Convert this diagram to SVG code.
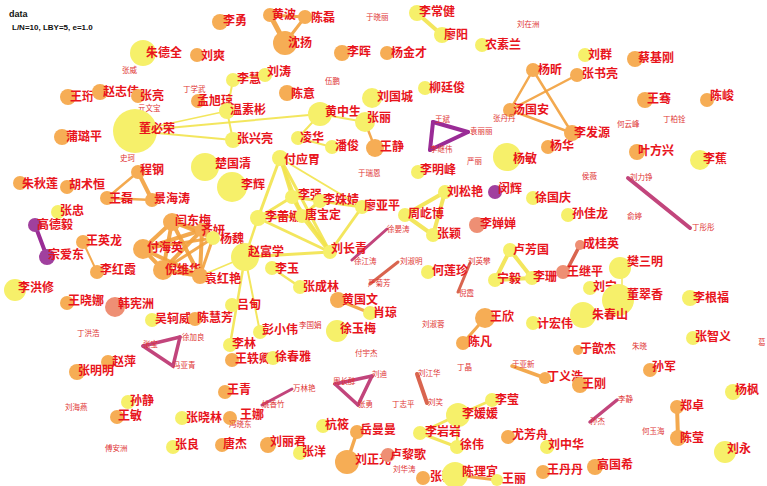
<svg xmlns="http://www.w3.org/2000/svg" width="767" height="486" viewBox="0 0 767 486">
<style>
.t{font-family:"Noto Sans CJK SC","Noto Sans",sans-serif;font-weight:bold;fill:#e8141c;dominant-baseline:central;font-size:12px}
.sm{font-size:7.5px;font-weight:normal;fill:#e03434}
.cy{fill:#f6f06a}
.co{fill:#f6ad55}
.cs{fill:#ee8f74}
.cp{fill:#a0409e}
.ey{stroke:#f2e34c;stroke-linecap:round;fill:none;stroke-opacity:0.9}
.eo{stroke:#f2a03c;stroke-linecap:round;fill:none;stroke-opacity:0.9}
.ep{stroke:#9a2c96;stroke-linecap:round;fill:none}
.em{stroke:#c2457c;stroke-linecap:round;fill:none}
.es{stroke:#d9654f;stroke-linecap:round;fill:none}
.hd{font-family:"Liberation Sans",Arial,sans-serif;font-weight:bold;fill:#111}
</style>
<rect width="767" height="486" fill="#fff"/>
<text class="hd" x="9" y="17" font-size="9">data</text>
<text class="hd" x="12" y="30" font-size="8">L/N=10, LBY=5, e=1.0</text>
<g id="edges">
<line class="eo" x1="270" y1="15" x2="305" y2="17" stroke-width="3"/>
<line class="eo" x1="270" y1="15" x2="285" y2="43" stroke-width="5"/>
<line class="eo" x1="305" y1="17" x2="285" y2="43" stroke-width="3"/>
<line class="ey" x1="417" y1="13" x2="442" y2="35" stroke-width="4"/>
<line class="ey" x1="135" y1="131" x2="320" y2="114" stroke-width="2"/>
<line class="ey" x1="135" y1="131" x2="233" y2="140" stroke-width="2"/>
<line class="ey" x1="135" y1="131" x2="227" y2="111" stroke-width="1.5"/>
<line class="ey" x1="233" y1="80" x2="227" y2="111" stroke-width="2"/>
<line class="ey" x1="227" y1="111" x2="233" y2="140" stroke-width="2"/>
<line class="ey" x1="233" y1="80" x2="265" y2="75" stroke-width="1.5"/>
<line class="ey" x1="320" y1="114" x2="298" y2="138" stroke-width="2"/>
<line class="ey" x1="298" y1="138" x2="332" y2="147" stroke-width="2"/>
<line class="eo" x1="365" y1="122" x2="375" y2="148" stroke-width="2.5"/>
<line class="ey" x1="320" y1="114" x2="365" y2="122" stroke-width="2"/>
<line class="eo" x1="533" y1="70" x2="510" y2="110" stroke-width="2.5"/>
<line class="eo" x1="533" y1="70" x2="572" y2="133" stroke-width="2.5"/>
<line class="eo" x1="510" y1="110" x2="572" y2="133" stroke-width="2.5"/>
<line class="eo" x1="510" y1="110" x2="577" y2="75" stroke-width="2.5"/>
<line class="ep" x1="433" y1="122" x2="468" y2="132" stroke-width="4"/>
<line class="ep" x1="468" y1="132" x2="430" y2="150" stroke-width="4"/>
<line class="ep" x1="430" y1="150" x2="433" y2="122" stroke-width="4"/>
<line class="eo" x1="138" y1="172" x2="107" y2="198" stroke-width="2.5"/>
<line class="eo" x1="138" y1="172" x2="152" y2="200" stroke-width="4"/>
<line class="eo" x1="107" y1="198" x2="152" y2="200" stroke-width="2.5"/>
<line class="ep" x1="35" y1="225" x2="47" y2="257" stroke-width="4"/>
<line class="eo" x1="83" y1="242" x2="97" y2="272" stroke-width="2"/>
<line class="eo" x1="172" y1="222" x2="202" y2="230" stroke-width="4"/>
<line class="eo" x1="172" y1="222" x2="213" y2="238" stroke-width="3"/>
<line class="eo" x1="172" y1="222" x2="143" y2="249" stroke-width="4"/>
<line class="eo" x1="172" y1="222" x2="163" y2="270" stroke-width="4"/>
<line class="eo" x1="172" y1="222" x2="200" y2="276" stroke-width="4"/>
<line class="eo" x1="202" y1="230" x2="213" y2="238" stroke-width="3"/>
<line class="eo" x1="202" y1="230" x2="143" y2="249" stroke-width="4"/>
<line class="eo" x1="202" y1="230" x2="163" y2="270" stroke-width="4"/>
<line class="eo" x1="202" y1="230" x2="200" y2="276" stroke-width="4"/>
<line class="eo" x1="213" y1="238" x2="143" y2="249" stroke-width="3"/>
<line class="eo" x1="213" y1="238" x2="163" y2="270" stroke-width="3"/>
<line class="eo" x1="213" y1="238" x2="200" y2="276" stroke-width="3"/>
<line class="eo" x1="143" y1="249" x2="163" y2="270" stroke-width="4"/>
<line class="eo" x1="143" y1="249" x2="200" y2="276" stroke-width="4"/>
<line class="eo" x1="163" y1="270" x2="200" y2="276" stroke-width="4"/>
<line class="ey" x1="280" y1="158" x2="258" y2="218" stroke-width="3"/>
<line class="ey" x1="280" y1="158" x2="292" y2="197" stroke-width="3"/>
<line class="ey" x1="280" y1="158" x2="330" y2="252" stroke-width="3"/>
<line class="ey" x1="280" y1="158" x2="362" y2="207" stroke-width="2"/>
<line class="ey" x1="280" y1="158" x2="302" y2="216" stroke-width="3"/>
<line class="ey" x1="258" y1="218" x2="292" y2="197" stroke-width="3"/>
<line class="ey" x1="258" y1="218" x2="302" y2="216" stroke-width="3"/>
<line class="ey" x1="258" y1="218" x2="330" y2="252" stroke-width="3"/>
<line class="ey" x1="258" y1="218" x2="245" y2="257" stroke-width="2.5"/>
<line class="ey" x1="292" y1="197" x2="302" y2="216" stroke-width="3"/>
<line class="ey" x1="292" y1="197" x2="320" y2="201" stroke-width="3"/>
<line class="ey" x1="292" y1="197" x2="330" y2="252" stroke-width="3"/>
<line class="ey" x1="320" y1="201" x2="362" y2="207" stroke-width="3"/>
<line class="ey" x1="320" y1="201" x2="302" y2="216" stroke-width="3"/>
<line class="ey" x1="302" y1="216" x2="330" y2="252" stroke-width="4"/>
<line class="ey" x1="362" y1="207" x2="330" y2="252" stroke-width="3"/>
<line class="ey" x1="245" y1="257" x2="330" y2="252" stroke-width="3"/>
<line class="ey" x1="245" y1="257" x2="230" y2="345" stroke-width="2.5"/>
<line class="ey" x1="245" y1="257" x2="260" y2="332" stroke-width="2"/>
<line class="ey" x1="245" y1="257" x2="200" y2="276" stroke-width="1.5"/>
<line class="ey" x1="272" y1="268" x2="300" y2="287" stroke-width="2.5"/>
<line class="eo" x1="338" y1="300" x2="370" y2="313" stroke-width="3"/>
<line class="em" x1="352" y1="260" x2="387" y2="229" stroke-width="3"/>
<line class="es" x1="370" y1="284" x2="398" y2="262" stroke-width="3"/>
<line class="ey" x1="445" y1="192" x2="405" y2="215" stroke-width="4"/>
<line class="ey" x1="445" y1="192" x2="433" y2="235" stroke-width="4"/>
<line class="ey" x1="405" y1="215" x2="433" y2="235" stroke-width="4"/>
<line class="ey" x1="510" y1="250" x2="495" y2="280" stroke-width="4"/>
<line class="ey" x1="510" y1="250" x2="532" y2="278" stroke-width="4"/>
<line class="ey" x1="495" y1="280" x2="532" y2="278" stroke-width="4"/>
<line class="es" x1="470" y1="263" x2="458" y2="292" stroke-width="3"/>
<line class="es" x1="580" y1="245" x2="568" y2="268" stroke-width="3.5"/>
<line class="eo" x1="485" y1="318" x2="463" y2="343" stroke-width="3"/>
<line class="em" x1="628" y1="178" x2="690" y2="228" stroke-width="4"/>
<line class="ey" x1="622" y1="268" x2="622" y2="298" stroke-width="1.5"/>
<line class="em" x1="143" y1="346" x2="180" y2="337" stroke-width="3.5"/>
<line class="em" x1="180" y1="337" x2="173" y2="366" stroke-width="3.5"/>
<line class="em" x1="173" y1="366" x2="143" y2="346" stroke-width="3.5"/>
<line class="em" x1="292" y1="389" x2="262" y2="405" stroke-width="3"/>
<line class="em" x1="335" y1="384" x2="372" y2="376" stroke-width="3.5"/>
<line class="em" x1="372" y1="376" x2="358" y2="405" stroke-width="3.5"/>
<line class="em" x1="358" y1="405" x2="335" y2="384" stroke-width="3.5"/>
<line class="eo" x1="357" y1="432" x2="347" y2="462" stroke-width="3.5"/>
<line class="es" x1="417" y1="374" x2="427" y2="403" stroke-width="4"/>
<line class="eo" x1="512" y1="366" x2="545" y2="378" stroke-width="3.5"/>
<line class="ey" x1="458" y1="415" x2="492" y2="400" stroke-width="2.5"/>
<line class="ey" x1="458" y1="415" x2="420" y2="433" stroke-width="3"/>
<line class="ey" x1="458" y1="415" x2="457" y2="447" stroke-width="2.5"/>
<line class="ey" x1="420" y1="433" x2="457" y2="447" stroke-width="3"/>
<line class="eo" x1="455" y1="475" x2="497" y2="480" stroke-width="3"/>
<line class="em" x1="617" y1="400" x2="590" y2="422" stroke-width="3.5"/>
<line class="eo" x1="677" y1="407" x2="678" y2="438" stroke-width="4"/>
</g>
<g id="n1"><circle class="cy" cx="143" cy="53" r="13"/><text class="t" x="146" y="51" font-size="16">朱德全</text></g>
<g id="n2"><text class="t sm" x="122" y="69">张威</text></g>
<g id="n3"><circle class="co" cx="68" cy="97" r="8"/><text class="t" x="70" y="95">王珩</text></g>
<g id="n4"><circle class="co" cx="100" cy="92" r="8"/><text class="t" x="103" y="90" font-size="13">赵志伟</text></g>
<g id="n5"><circle class="co" cx="138" cy="96" r="7"/><text class="t" x="140" y="94">张亮</text></g>
<g id="n6"><text class="t sm" x="183" y="88">丁学武</text></g>
<g id="n7"><circle class="co" cx="198" cy="101" r="7"/><text class="t" x="197" y="99">孟旭琼</text></g>
<g id="n8"><circle class="co" cx="197" cy="55" r="7"/><text class="t" x="201" y="54">刘爽</text></g>
<g id="n9"><text class="t sm" x="138" y="107">亓文宝</text></g>
<g id="n10"><circle class="cy" cx="135" cy="131" r="22"/><text class="t" x="139" y="127" font-size="25">董必荣</text></g>
<g id="n11"><circle class="co" cx="62" cy="137" r="8"/><text class="t" x="66" y="135">蒲璐平</text></g>
<g id="n12"><text class="t sm" x="120" y="157">史珂</text></g>
<g id="n13"><circle class="co" cx="220" cy="22" r="8"/><text class="t" x="223" y="19">李勇</text></g>
<g id="n14"><circle class="co" cx="270" cy="15" r="7"/><text class="t" x="272" y="13">黄波</text></g>
<g id="n15"><circle class="co" cx="305" cy="17" r="7"/><text class="t" x="311" y="16">陈磊</text></g>
<g id="n16"><circle class="co" cx="285" cy="43" r="12"/><text class="t" x="288" y="41" font-size="15">沈扬</text></g>
<g id="n17"><text class="t sm" x="366" y="16">于晓丽</text></g>
<g id="n18"><circle class="co" cx="342" cy="53" r="8"/><text class="t" x="347" y="50">李晖</text></g>
<g id="n19"><circle class="cy" cx="233" cy="80" r="7"/><text class="t" x="237" y="77">李慧</text></g>
<g id="n20"><circle class="cy" cx="265" cy="75" r="7"/><text class="t" x="267" y="70">刘涛</text></g>
<g id="n21"><text class="t sm" x="325" y="80">伍鹏</text></g>
<g id="n22"><circle class="co" cx="287" cy="93" r="8"/><text class="t" x="291" y="92">陈意</text></g>
<g id="n23"><circle class="cy" cx="372" cy="98" r="10"/><text class="t" x="377" y="95" font-size="15">刘国城</text></g>
<g id="n24"><circle class="cy" cx="227" cy="111" r="8"/><text class="t" x="230" y="108">温素彬</text></g>
<g id="n25"><circle class="cy" cx="233" cy="140" r="8"/><text class="t" x="237" y="137">张兴亮</text></g>
<g id="n26"><circle class="cy" cx="320" cy="114" r="12"/><text class="t" x="325" y="110" font-size="15">黄中生</text></g>
<g id="n27"><circle class="cy" cx="365" cy="122" r="10"/><text class="t" x="367" y="116" font-size="18">张丽</text></g>
<g id="n28"><circle class="cy" cx="298" cy="138" r="7"/><text class="t" x="300" y="136">凌华</text></g>
<g id="n29"><circle class="cy" cx="332" cy="147" r="7"/><text class="t" x="335" y="144">潘俊</text></g>
<g id="n30"><circle class="co" cx="375" cy="148" r="9"/><text class="t" x="380" y="145">王静</text></g>
<g id="n31"><circle class="cy" cx="280" cy="158" r="8"/><text class="t" x="284" y="158" font-size="11">付应胃</text></g>
<g id="n32"><circle class="cy" cx="205" cy="167" r="14"/><text class="t" x="215" y="162" font-size="17">楚国清</text></g>
<g id="n33"><circle class="cy" cx="417" cy="13" r="8"/><text class="t" x="419" y="10">李常健</text></g>
<g id="n34"><circle class="cy" cx="442" cy="35" r="8"/><text class="t" x="444" y="33">廖阳</text></g>
<g id="n35"><text class="t sm" x="517" y="23">刘在洲</text></g>
<g id="n36"><circle class="cy" cx="482" cy="45" r="7"/><text class="t" x="485" y="43">农素兰</text></g>
<g id="n37"><circle class="co" cx="387" cy="53" r="7"/><text class="t" x="391" y="51">杨金才</text></g>
<g id="n38"><circle class="cy" cx="425" cy="88" r="7"/><text class="t" x="429" y="86">柳廷俊</text></g>
<g id="n39"><circle class="co" cx="533" cy="70" r="7"/><text class="t" x="538" y="68">杨昕</text></g>
<g id="n40"><circle class="co" cx="510" cy="110" r="7"/><text class="t" x="513" y="108">汤国安</text></g>
<g id="n41"><text class="t sm" x="493" y="117">张丹丹</text></g>
<g id="n42"><circle class="co" cx="548" cy="147" r="7"/><text class="t" x="550" y="144">杨华</text></g>
<g id="n43"><circle class="co" cx="572" cy="133" r="8"/><text class="t" x="574" y="131">李发源</text></g>
<g id="n44"><text class="t sm" x="435" y="118">王斌</text></g>
<g id="n45"><text class="t sm" x="470" y="130">袁丽丽</text></g>
<g id="n46"><text class="t sm" x="430" y="148">李继伟</text></g>
<g id="n47"><text class="t sm" x="467" y="160">严丽</text></g>
<g id="n48"><circle class="cy" cx="507" cy="157" r="14"/><text class="t" x="513" y="157" font-size="16">杨敏</text></g>
<g id="n49"><circle class="cy" cx="585" cy="55" r="7"/><text class="t" x="588" y="53">刘群</text></g>
<g id="n50"><circle class="co" cx="635" cy="59" r="8"/><text class="t" x="638" y="56">蔡基刚</text></g>
<g id="n51"><circle class="co" cx="577" cy="75" r="7"/><text class="t" x="582" y="72">张书亮</text></g>
<g id="n52"><circle class="co" cx="645" cy="100" r="8"/><text class="t" x="647" y="97">王骞</text></g>
<g id="n53"><circle class="co" cx="707" cy="100" r="7"/><text class="t" x="710" y="94" font-size="17">陈峻</text></g>
<g id="n54"><text class="t sm" x="663" y="118">丁柏铨</text></g>
<g id="n55"><text class="t sm" x="617" y="123">何云峰</text></g>
<g id="n56"><circle class="co" cx="637" cy="152" r="8"/><text class="t" x="638" y="149">叶方兴</text></g>
<g id="n57"><circle class="cy" cx="700" cy="160" r="10"/><text class="t" x="703" y="157" font-size="16">李蕉</text></g>
<g id="n58"><circle class="co" cx="20" cy="183" r="7"/><text class="t" x="22" y="182">朱秋莲</text></g>
<g id="n59"><circle class="co" cx="67" cy="187" r="7"/><text class="t" x="69" y="183">胡术恒</text></g>
<g id="n60"><circle class="co" cx="138" cy="172" r="7"/><text class="t" x="140" y="168">程钢</text></g>
<g id="n61"><circle class="co" cx="107" cy="198" r="7"/><text class="t" x="109" y="197">王磊</text></g>
<g id="n62"><circle class="co" cx="152" cy="200" r="7"/><text class="t" x="154" y="197">景海涛</text></g>
<g id="n63"><circle class="cy" cx="58" cy="212" r="7"/><text class="t" x="60" y="209">张忠</text></g>
<g id="n64"><circle class="cp" cx="35" cy="225" r="7"/><text class="t" x="37" y="223">高德毅</text></g>
<g id="n65"><circle class="cp" cx="47" cy="257" r="8"/><text class="t" x="48" y="253">宗爱东</text></g>
<g id="n66"><circle class="co" cx="83" cy="242" r="7"/><text class="t" x="86" y="239">王英龙</text></g>
<g id="n67"><circle class="co" cx="97" cy="272" r="7"/><text class="t" x="100" y="268">李红霞</text></g>
<g id="n68"><circle class="cy" cx="15" cy="290" r="11"/><text class="t" x="18" y="286" font-size="16">李洪修</text></g>
<g id="n69"><circle class="co" cx="67" cy="303" r="7"/><text class="t" x="68" y="299">王晓娜</text></g>
<g id="n70"><circle class="cs" cx="115" cy="307" r="10"/><text class="t" x="118" y="302" font-size="22">韩宪洲</text></g>
<g id="n71"><circle class="cy" cx="152" cy="320" r="7"/><text class="t" x="155" y="317">吴轲威</text></g>
<g id="n72"><circle class="co" cx="195" cy="319" r="7"/><text class="t" x="197" y="316">陈慧芳</text></g>
<g id="n73"><circle class="co" cx="172" cy="222" r="9"/><text class="t" x="175" y="219">闫东梅</text></g>
<g id="n74"><circle class="co" cx="202" cy="230" r="7"/><text class="t" x="201" y="229">齐妍</text></g>
<g id="n75"><circle class="cy" cx="213" cy="238" r="7"/><text class="t" x="220" y="237">杨魏</text></g>
<g id="n76"><circle class="co" cx="143" cy="249" r="10"/><text class="t" x="147" y="246">付海英</text></g>
<g id="n77"><circle class="co" cx="163" cy="270" r="10"/><text class="t" x="165" y="268">倪维华</text></g>
<g id="n78"><circle class="co" cx="200" cy="276" r="8"/><text class="t" x="205" y="277">袁红艳</text></g>
<g id="n79"><circle class="cy" cx="232" cy="187" r="15"/><text class="t" x="241" y="183" font-size="17">李辉</text></g>
<g id="n80"><circle class="cy" cx="292" cy="197" r="7"/><text class="t" x="298" y="193">李强</text></g>
<g id="n81"><circle class="cy" cx="320" cy="201" r="7"/><text class="t" x="323" y="198">李姝婧</text></g>
<g id="n82"><circle class="cy" cx="362" cy="207" r="7"/><text class="t" x="364" y="204">廖亚平</text></g>
<g id="n83"><circle class="cy" cx="258" cy="218" r="8"/><text class="t" x="265" y="215">李蕾娜</text></g>
<g id="n84"><circle class="cy" cx="302" cy="216" r="7"/><text class="t" x="305" y="213">唐宝定</text></g>
<g id="n85"><circle class="cy" cx="245" cy="257" r="14"/><text class="t" x="248" y="250" font-size="27">赵富学</text></g>
<g id="n86"><circle class="cy" cx="330" cy="252" r="7"/><text class="t" x="331" y="247">刘长青</text></g>
<g id="n87"><circle class="cy" cx="272" cy="268" r="7"/><text class="t" x="275" y="267">李玉</text></g>
<g id="n88"><circle class="cy" cx="300" cy="287" r="7"/><text class="t" x="303" y="285">张成林</text></g>
<g id="n89"><circle class="cy" cx="232" cy="305" r="7"/><text class="t" x="237" y="303">吕甸</text></g>
<g id="n90"><circle class="co" cx="338" cy="300" r="8"/><text class="t" x="342" y="298" font-size="18">黄国文</text></g>
<g id="n91"><circle class="cy" cx="370" cy="313" r="7"/><text class="t" x="373" y="311">肖琼</text></g>
<g id="n92"><circle class="cy" cx="337" cy="331" r="11"/><text class="t" x="340" y="327" font-size="16">徐玉梅</text></g>
<g id="n93"><text class="t sm" x="358" y="172">于瑞恩</text></g>
<g id="n94"><text class="t sm" x="354" y="260">徐江涛</text></g>
<g id="n95"><text class="t sm" x="368" y="282">严菊芳</text></g>
<g id="n96"><text class="t sm" x="387" y="228">徐晏涛</text></g>
<g id="n97"><circle class="cy" cx="418" cy="172" r="7"/><text class="t" x="420" y="168">李明峰</text></g>
<g id="n98"><circle class="cy" cx="445" cy="192" r="7"/><text class="t" x="447" y="190">刘松艳</text></g>
<g id="n99"><circle class="cp" cx="495" cy="192" r="7"/><text class="t" x="498" y="187">闵辉</text></g>
<g id="n100"><circle class="cy" cx="533" cy="198" r="7"/><text class="t" x="535" y="196">徐国庆</text></g>
<g id="n101"><circle class="cy" cx="568" cy="215" r="7"/><text class="t" x="572" y="212">孙佳龙</text></g>
<g id="n102"><circle class="cy" cx="405" cy="215" r="7"/><text class="t" x="408" y="212">周屹博</text></g>
<g id="n103"><circle class="cy" cx="433" cy="235" r="7"/><text class="t" x="437" y="232">张颖</text></g>
<g id="n104"><circle class="cs" cx="477" cy="225" r="8"/><text class="t" x="480" y="222">李婵婵</text></g>
<g id="n105"><circle class="cy" cx="510" cy="250" r="7"/><text class="t" x="513" y="248">卢芳国</text></g>
<g id="n106"><circle class="cy" cx="495" cy="280" r="7"/><text class="t" x="497" y="277">宁毅</text></g>
<g id="n107"><circle class="cy" cx="532" cy="278" r="7"/><text class="t" x="533" y="275">李珊</text></g>
<g id="n108"><circle class="cy" cx="428" cy="272" r="7"/><text class="t" x="432" y="269">何莲珍</text></g>
<g id="n109"><text class="t sm" x="400" y="260">刘淑明</text></g>
<g id="n110"><text class="t sm" x="468" y="260">刘英攀</text></g>
<g id="n111"><text class="t sm" x="459" y="292">倪霞</text></g>
<g id="n112"><circle class="cs" cx="563" cy="272" r="7"/><text class="t" x="567" y="270">王继平</text></g>
<g id="n113"><circle class="co" cx="485" cy="318" r="10"/><text class="t" x="490" y="315" font-size="17">王欣</text></g>
<g id="n114"><circle class="cy" cx="533" cy="323" r="7"/><text class="t" x="537" y="322">计宏伟</text></g>
<g id="n115"><text class="t sm" x="422" y="323">刘淑蓉</text></g>
<g id="n116"><text class="t sm" x="582" y="175">侯薇</text></g>
<g id="n117"><text class="t sm" x="630" y="176">刘力铮</text></g>
<g id="n118"><text class="t sm" x="692" y="226">丁彤彤</text></g>
<g id="n119"><text class="t sm" x="627" y="215">俞婷</text></g>
<g id="n120"><circle class="cs" cx="580" cy="245" r="5"/><text class="t" x="583" y="242" font-size="15">成桂英</text></g>
<g id="n121"><circle class="cy" cx="620" cy="268" r="11"/><text class="t" x="627" y="260" font-size="19">樊三明</text></g>
<g id="n122"><circle class="cy" cx="590" cy="288" r="7"/><text class="t" x="593" y="285">刘宁</text></g>
<g id="n123"><circle class="cy" cx="618" cy="300" r="16"/><text class="t" x="627" y="293" font-size="25">董翠香</text></g>
<g id="n124"><circle class="cy" cx="690" cy="298" r="8"/><text class="t" x="693" y="296">李根福</text></g>
<g id="n125"><circle class="cy" cx="583" cy="315" r="13"/><text class="t" x="592" y="313" font-size="18">朱春山</text></g>
<g id="n126"><text class="t sm" x="77" y="332">丁洪浩</text></g>
<g id="n127"><text class="t sm" x="143" y="343">张宝</text></g>
<g id="n128"><text class="t sm" x="182" y="336">徐加良</text></g>
<g id="n129"><text class="t sm" x="173" y="364">冯亚青</text></g>
<g id="n130"><circle class="co" cx="108" cy="362" r="7"/><text class="t" x="112" y="360">赵萍</text></g>
<g id="n131"><circle class="co" cx="77" cy="372" r="8"/><text class="t" x="78" y="369">张明明</text></g>
<g id="n132"><text class="t sm" x="65" y="406">刘海燕</text></g>
<g id="n133"><circle class="cy" cx="128" cy="402" r="7"/><text class="t" x="130" y="399">孙静</text></g>
<g id="n134"><circle class="co" cx="117" cy="417" r="7"/><text class="t" x="118" y="414">王敏</text></g>
<g id="n135"><circle class="cy" cx="182" cy="418" r="7"/><text class="t" x="186" y="416">张晓林</text></g>
<g id="n136"><text class="t sm" x="105" y="447">傅安洲</text></g>
<g id="n137"><circle class="cy" cx="173" cy="447" r="7"/><text class="t" x="175" y="443">张良</text></g>
<g id="n138"><circle class="cy" cx="260" cy="332" r="7"/><text class="t" x="262" y="328">彭小伟</text></g>
<g id="n139"><text class="t sm" x="299" y="324">李国娟</text></g>
<g id="n140"><circle class="cy" cx="230" cy="345" r="7"/><text class="t" x="232" y="342">李林</text></g>
<g id="n141"><circle class="co" cx="232" cy="360" r="7"/><text class="t" x="235" y="357">王轶卿</text></g>
<g id="n142"><circle class="cy" cx="273" cy="358" r="7"/><text class="t" x="275" y="355">徐春雅</text></g>
<g id="n143"><text class="t sm" x="355" y="352">付宇杰</text></g>
<g id="n144"><text class="t sm" x="293" y="387">万林艳</text></g>
<g id="n145"><text class="t sm" x="262" y="403">姚香竹</text></g>
<g id="n146"><text class="t sm" x="333" y="380">周长醇</text></g>
<g id="n147"><text class="t sm" x="372" y="373">刘迪</text></g>
<g id="n148"><text class="t sm" x="358" y="403">张勇</text></g>
<g id="n149"><circle class="co" cx="225" cy="392" r="7"/><text class="t" x="227" y="388">王青</text></g>
<g id="n150"><circle class="co" cx="230" cy="418" r="7"/><text class="t" x="240" y="413">王娜</text></g>
<g id="n151"><text class="t sm" x="229" y="423">冯晓东</text></g>
<g id="n152"><circle class="co" cx="222" cy="445" r="7"/><text class="t" x="223" y="442">唐杰</text></g>
<g id="n153"><circle class="co" cx="268" cy="445" r="8"/><text class="t" x="270" y="440">刘丽君</text></g>
<g id="n154"><circle class="cy" cx="300" cy="453" r="7"/><text class="t" x="302" y="450">张洋</text></g>
<g id="n155"><circle class="cy" cx="323" cy="426" r="7"/><text class="t" x="325" y="423">杭筱</text></g>
<g id="n156"><circle class="co" cx="357" cy="432" r="7"/><text class="t" x="360" y="428">岳曼曼</text></g>
<g id="n157"><circle class="co" cx="347" cy="462" r="12"/><text class="t" x="355" y="458" font-size="17">刘正光</text></g>
<g id="n158"><circle class="co" cx="463" cy="343" r="7"/><text class="t" x="468" y="340">陈凡</text></g>
<g id="n159"><text class="t sm" x="418" y="372">刘江华</text></g>
<g id="n160"><text class="t sm" x="428" y="401">刘笑</text></g>
<g id="n161"><text class="t sm" x="457" y="366">丁晶</text></g>
<g id="n162"><text class="t sm" x="392" y="403">丁志平</text></g>
<g id="n163"><text class="t sm" x="512" y="363">于亚新</text></g>
<g id="n164"><circle class="co" cx="545" cy="378" r="6"/><text class="t" x="547" y="375" font-size="15">丁义浩</text></g>
<g id="n165"><circle class="cy" cx="492" cy="400" r="7"/><text class="t" x="495" y="398">李莹</text></g>
<g id="n166"><circle class="cy" cx="458" cy="415" r="12"/><text class="t" x="462" y="412" font-size="15">李媛媛</text></g>
<g id="n167"><circle class="cy" cx="420" cy="433" r="7"/><text class="t" x="425" y="430">李岩岩</text></g>
<g id="n168"><circle class="cy" cx="457" cy="447" r="7"/><text class="t" x="460" y="443">徐伟</text></g>
<g id="n169"><circle class="co" cx="508" cy="437" r="7"/><text class="t" x="512" y="433">尤芳舟</text></g>
<g id="n170"><circle class="cy" cx="547" cy="447" r="7"/><text class="t" x="548" y="443">刘中华</text></g>
<g id="n171"><circle class="cs" cx="388" cy="455" r="7"/><text class="t" x="390" y="453">卢黎歌</text></g>
<g id="n172"><text class="t sm" x="393" y="468">刘华涛</text></g>
<g id="n173"><circle class="co" cx="423" cy="478" r="7"/><text class="t" x="430" y="475">张驰</text></g>
<g id="n174"><circle class="cy" cx="455" cy="475" r="13"/><text class="t" x="462" y="470" font-size="16">陈理宜</text></g>
<g id="n175"><circle class="cy" cx="497" cy="480" r="6"/><text class="t" x="502" y="477">王丽</text></g>
<g id="n176"><circle class="co" cx="543" cy="472" r="7"/><text class="t" x="547" y="468">王丹丹</text></g>
<g id="n177"><circle class="co" cx="578" cy="350" r="5"/><text class="t" x="580" y="347" font-size="17">于歆杰</text></g>
<g id="n178"><text class="t sm" x="632" y="345">朱晓</text></g>
<g id="n179"><circle class="cy" cx="693" cy="338" r="7"/><text class="t" x="695" y="335">张智义</text></g>
<g id="n180"><text class="t sm" x="758" y="341" font-size="9">葛</text></g>
<g id="n181"><circle class="co" cx="650" cy="370" r="7"/><text class="t" x="652" y="365">孙军</text></g>
<g id="n182"><circle class="co" cx="580" cy="385" r="8"/><text class="t" x="582" y="382">王刚</text></g>
<g id="n183"><circle class="cy" cx="733" cy="392" r="8"/><text class="t" x="735" y="388">杨枫</text></g>
<g id="n184"><text class="t sm" x="618" y="398">李静</text></g>
<g id="n185"><text class="t sm" x="590" y="420">孙杰</text></g>
<g id="n186"><circle class="co" cx="677" cy="407" r="7"/><text class="t" x="680" y="404">郑卓</text></g>
<g id="n187"><circle class="co" cx="678" cy="438" r="8"/><text class="t" x="680" y="436">陈莹</text></g>
<g id="n188"><text class="t sm" x="642" y="430">何玉海</text></g>
<g id="n189"><circle class="cy" cx="725" cy="452" r="11"/><text class="t" x="727" y="447" font-size="16">刘永</text></g>
<g id="n190"><circle class="co" cx="595" cy="467" r="8"/><text class="t" x="597" y="463">高国希</text></g>
</svg>
